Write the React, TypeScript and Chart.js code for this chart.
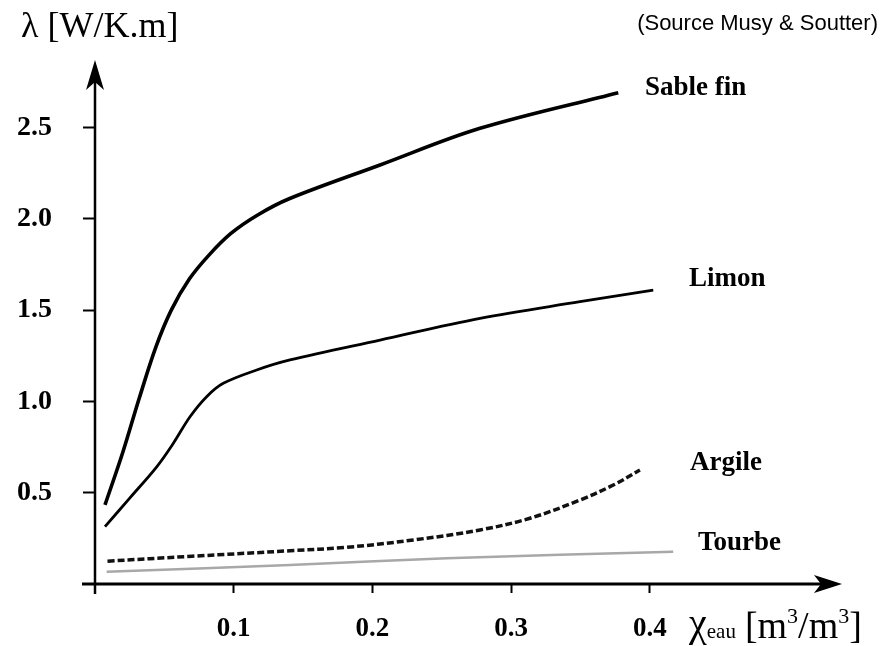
import React, { useEffect, useRef } from 'react';
import { Chart, registerables } from 'chart.js';

Chart.register(...registerables);

// ---- data ----
const seriesNames = ['Sable fin', 'Limon', 'Argile', 'Tourbe'];

const sableX = [0.0072, 0.02, 0.032, 0.044, 0.055, 0.068, 0.082, 0.098, 0.117, 0.14, 0.2055, 0.2776, 0.3773];
const sableY = [0.433, 0.72, 1.02, 1.3, 1.5, 1.67, 1.8, 1.92, 2.02, 2.11, 2.295, 2.496, 2.691];

const limonX = [0.0072, 0.0252, 0.0445, 0.0565, 0.0685, 0.0805, 0.0925, 0.1166, 0.1406, 0.2055, 0.2776, 0.3497, 0.4025];
const limonY = [0.314, 0.472, 0.642, 0.771, 0.916, 1.026, 1.099, 1.172, 1.227, 1.336, 1.455, 1.546, 1.61];

const argileX = [0.009, 0.07, 0.1406, 0.1815, 0.2295, 0.2776, 0.3136, 0.3497, 0.3737, 0.3929];
const argileY = [0.125, 0.152, 0.182, 0.201, 0.241, 0.296, 0.36, 0.46, 0.542, 0.624];

const tourbeX = [0.0084, 0.1406, 0.2536, 0.4169];
const tourbeY = [0.067, 0.104, 0.141, 0.177];

const xTicks = [0.1, 0.2, 0.3, 0.4];
const yTicks = [0.5, 1.0, 1.5, 2.0, 2.5];

const zip = (xs: number[], ys: number[]) => xs.map((x, i) => ({ x, y: ys[i] }));

// label anchors (data coordinates, baseline-left)
const labelAnchors = [
  { x: 0.3965, y: 2.678 },
  { x: 0.4283, y: 1.632 },
  { x: 0.429, y: 0.624 },
  { x: 0.4348, y: 0.186 },
];

export default function App() {
  const ref = useRef<HTMLCanvasElement>(null);

  useEffect(() => {
    if (!ref.current) return;
    const decor = {
      id: 'decor',
      afterDraw(chart: any) {
        const ctx = chart.ctx as CanvasRenderingContext2D;
        const xs = chart.scales.x;
        const ys = chart.scales.y;
        const x0 = xs.getPixelForValue(0);
        const y0 = ys.getPixelForValue(0);
        const xr = chart.chartArea.right;
        const yt = chart.chartArea.top;
        ctx.save();
        ctx.strokeStyle = '#000';
        ctx.fillStyle = '#000';
        ctx.lineCap = 'butt';
        // axes
        ctx.lineWidth = 2.5;
        ctx.beginPath();
        ctx.moveTo(x0, y0 + 10);
        ctx.lineTo(x0, yt + 20);
        ctx.stroke();
        ctx.lineWidth = 3;
        ctx.beginPath();
        ctx.moveTo(x0 - 13, y0);
        ctx.lineTo(xr - 20, y0);
        ctx.stroke();
        // arrowheads
        ctx.beginPath();
        ctx.moveTo(x0, yt);
        ctx.lineTo(x0 - 9, yt + 30);
        ctx.lineTo(x0, yt + 22);
        ctx.lineTo(x0 + 9, yt + 30);
        ctx.closePath();
        ctx.fill();
        ctx.beginPath();
        ctx.moveTo(xr, y0);
        ctx.lineTo(xr - 28, y0 - 9);
        ctx.lineTo(xr - 21, y0);
        ctx.lineTo(xr - 28, y0 + 9);
        ctx.closePath();
        ctx.fill();

        // series labels
        ctx.font = 'bold 27px "Liberation Serif"';
        ctx.textAlign = 'left';
        ctx.textBaseline = 'alphabetic';
        seriesNames.forEach((name, i) => {
          const a = labelAnchors[i];
          ctx.fillText(name, xs.getPixelForValue(a.x), ys.getPixelForValue(a.y));
        });

        // y title
        ctx.font = '36px "Liberation Serif"';
        ctx.fillText('λ [W/K.m]', 21, 37);

        // source
        ctx.font = '22px "Liberation Sans"';
        ctx.textAlign = 'right';
        ctx.fillText('(Source Musy & Soutter)', 878, 30);

        // x title
        ctx.textAlign = 'left';
        let cx = 689;
        const base = 638;
        const piece = (t: string, font: string, dy = 0) => {
          ctx.font = font;
          ctx.fillText(t, cx, base + dy);
          cx += ctx.measureText(t).width;
        };
        const big = '38px "Liberation Serif"';
        const small = '22px "Liberation Serif"';
        piece('χ', '40px "Liberation Serif"', -2);
        piece('eau', '21px "Liberation Serif"', 0);
        cx += 9;
        piece('[m', big);
        piece('3', small, -15);
        piece('/m', big);
        piece('3', small, -15);
        piece(']', big);
        ctx.restore();
      },
    };

    const chart = new Chart(ref.current, {
      type: 'scatter',
      data: {
        datasets: [
          {
            label: seriesNames[0],
            data: zip(sableX, sableY),
            showLine: true,
            borderColor: '#000',
            borderWidth: 3.6,
            pointRadius: 0,
            tension: 0.35,
          },
          {
            label: seriesNames[1],
            data: zip(limonX, limonY),
            showLine: true,
            borderColor: '#000',
            borderWidth: 2.8,
            pointRadius: 0,
            tension: 0.35,
          },
          {
            label: seriesNames[2],
            data: zip(argileX, argileY),
            showLine: true,
            borderColor: '#111',
            borderWidth: 3.5,
            borderDash: [7, 3],
            pointRadius: 0,
            tension: 0.35,
          },
          {
            label: seriesNames[3],
            data: zip(tourbeX, tourbeY),
            showLine: true,
            borderColor: '#a8a8a8',
            borderWidth: 2.5,
            pointRadius: 0,
            tension: 0.35,
          },
        ],
      } as any,
      options: {
        animation: false,
        responsive: false,
        maintainAspectRatio: false,
        devicePixelRatio: 1,
        layout: { padding: { left: 0, top: 60, right: 48, bottom: 0 } },
        plugins: {
          legend: { display: false },
          tooltip: { enabled: false },
          title: { display: false },
        },
        scales: {
          x: {
            type: 'linear',
            min: 0,
            max: 0.5386,
            border: { display: false },
            grid: {
              display: true,
              drawOnChartArea: false,
              drawTicks: true,
              tickLength: 9,
              tickWidth: 2,
              tickColor: '#000',
            },
            afterBuildTicks: (scale: any) => {
              scale.ticks = xTicks.map((v) => ({ value: v }));
            },
            afterFit: (scale: any) => {
              scale.height = 62;
            },
            ticks: {
              color: '#000',
              padding: 20,
              font: { family: '"Liberation Serif"', size: 27, weight: 'bold' },
              callback: (v: any) => Number(v).toFixed(1),
            },
          },
          y: {
            type: 'linear',
            min: 0,
            max: 2.87,
            border: { display: false },
            grid: {
              display: true,
              drawOnChartArea: false,
              drawTicks: true,
              tickLength: 12,
              tickWidth: 2,
              tickColor: '#000',
            },
            afterBuildTicks: (scale: any) => {
              scale.ticks = yTicks.map((v) => ({ value: v }));
            },
            afterFit: (scale: any) => {
              scale.width = 95;
            },
            ticks: {
              color: '#000',
              padding: 31,
              font: { family: '"Liberation Serif"', size: 28, weight: 'bold' },
              callback: (v: any) => Number(v).toFixed(1),
            },
          },
        },
      } as any,
      plugins: [decor],
    });
    return () => chart.destroy();
  }, []);

  return (
    <div style={{ position: 'fixed', left: 0, top: 0, width: 890, height: 646, background: '#fff' }}>
      <canvas ref={ref} width={890} height={646} style={{ width: 890, height: 646, display: 'block' }} />
    </div>
  );
}
